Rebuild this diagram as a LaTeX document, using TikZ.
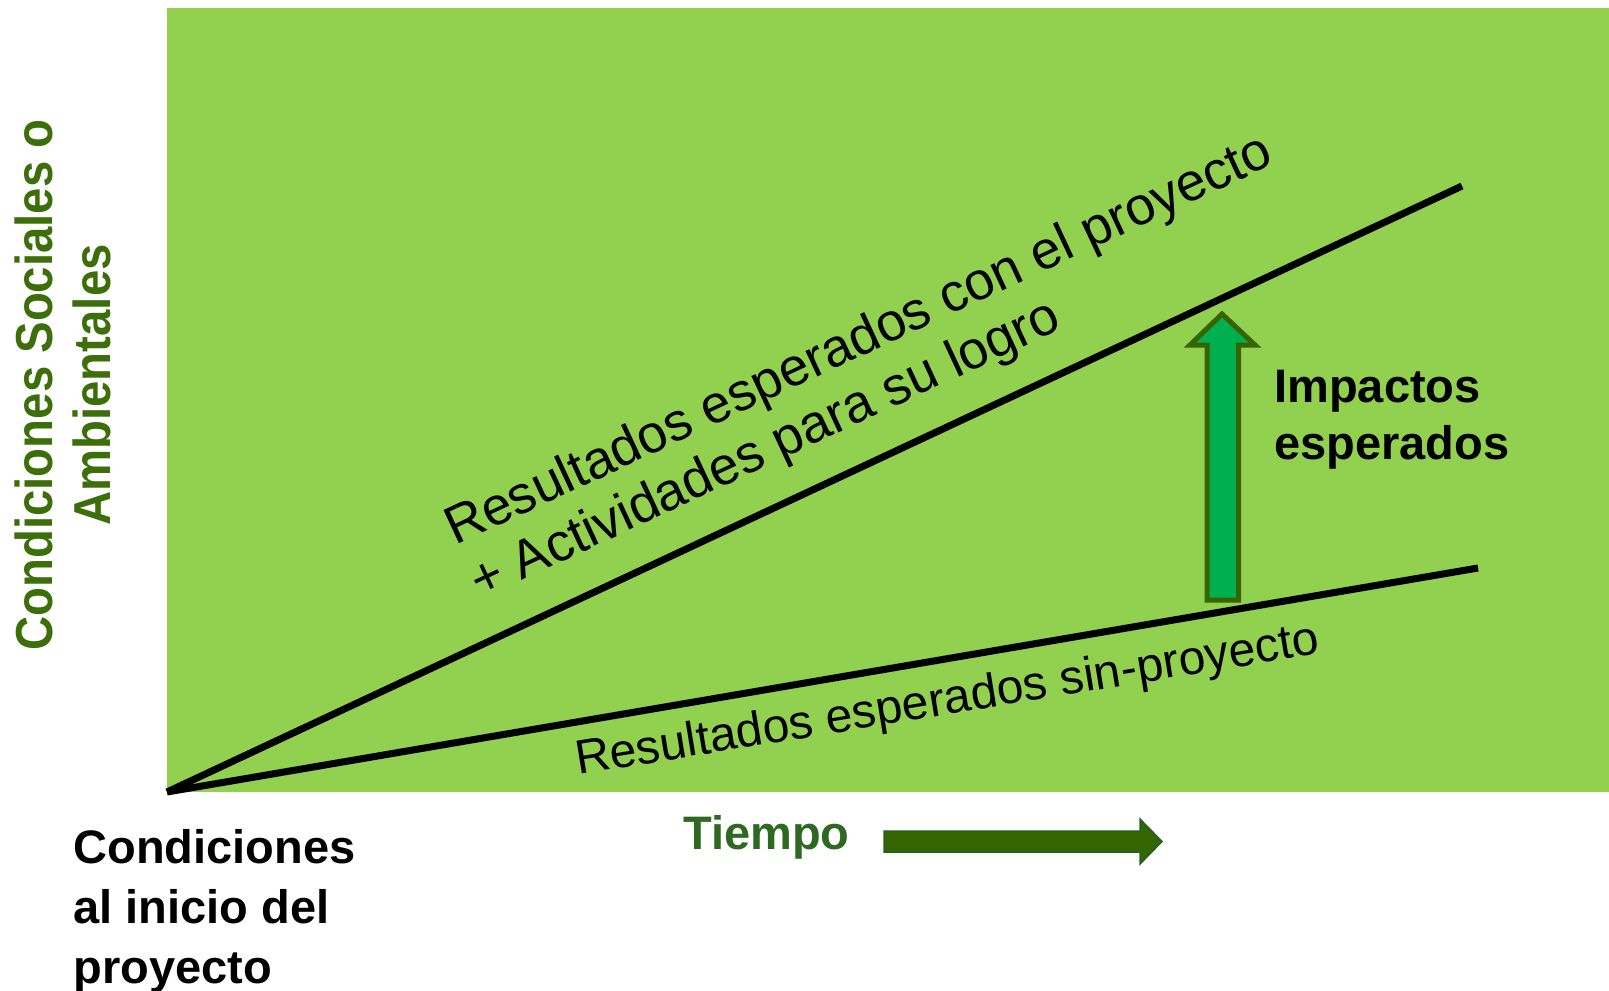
\documentclass[tikz,border=0pt]{standalone}
\usepackage{fontspec}
\setmainfont{Liberation Sans}
\newfontfamily\narrowsans[FakeStretch=0.91]{Liberation Sans}
\usepackage{tikz}
\usetikzlibrary{positioning}
\definecolor{chartgreen}{RGB}{146,208,80}
\definecolor{impactfill}{RGB}{0,176,80}
\definecolor{impactdraw}{RGB}{56,100,0}
\definecolor{axisgreen}{RGB}{60,110,10}
\definecolor{timegreen}{RGB}{46,105,34}
\definecolor{timefill}{RGB}{51,102,0}
\definecolor{timedraw}{RGB}{40,95,30}
\tikzstyle{resline}=[
  line width=3.5pt, black
]
\tikzstyle{reslabel}=[
  inner sep=0pt, anchor=base west, font=\fontsize{26.6}{30}\selectfont
]
\tikzstyle{boldlabel}=[
  inner sep=0pt, align=left, anchor=base west
]
\tikzstyle{impactarrow}=[
  fill=impactfill, draw=impactdraw, line width=2.5pt
]
\tikzstyle{timearrow}=[
  fill=timefill, draw=timedraw, line width=0.75pt
]
\begin{document}
\begin{tikzpicture}[x=0.5pt,y=-0.5pt]
        \useasboundingbox (0,0) rectangle (1609,990);
        \fill [chartgreen] (167,8) rectangle (1609,792);
        \coordinate (o) at (167,792);
        \coordinate (withend) at (1462,186);
        \coordinate (withoutend) at (1478,568);
        \draw [resline] (o) -- (withend);
        \draw [resline] (o) -- (withoutend);

        \draw [impactarrow] (1222,314) -- (1255,345) -- (1238.5,345) -- (1238.5,600)
          -- (1207,600) -- (1207,345) -- (1190,345) -- cycle;
        \draw [timearrow] (884,831) -- (1140,831) -- (1140,819) -- (1162,841.5)
          -- (1140,864) -- (1140,852) -- (884,852) -- cycle;

        \node (conproy) at (455,546) [reslabel, rotate=25] {Resultados esperados con el proyecto};
        \node (actividades) at (480,600) [reslabel, rotate=25] {+ Actividades para su logro};
        \node (sinproy) at (578,775) [reslabel, rotate=9.3, font=\fontsize{24}{28}\selectfont] {Resultados esperados sin-proyecto};

        \node (impactos) at (1274,459) [boldlabel, font=\bfseries\fontsize{23.5}{28.5}\selectfont] {Impactos\\esperados};
        \node (inicio) at (73,983) [boldlabel, font=\bfseries\fontsize{23.5}{30}\selectfont] {Condiciones\\al inicio del\\proyecto};
        \node (tiempo) at (683,849) [boldlabel, text=timegreen, font=\bfseries\fontsize{23.5}{28}\selectfont] {Tiempo};
        \node (ejey) at (63,385) [rotate=90, align=center, inner sep=0pt, text=axisgreen,
          font=\narrowsans\bfseries\fontsize{26}{29}\selectfont] {Condiciones Sociales o\\Ambientales};
\end{tikzpicture}
\end{document}
